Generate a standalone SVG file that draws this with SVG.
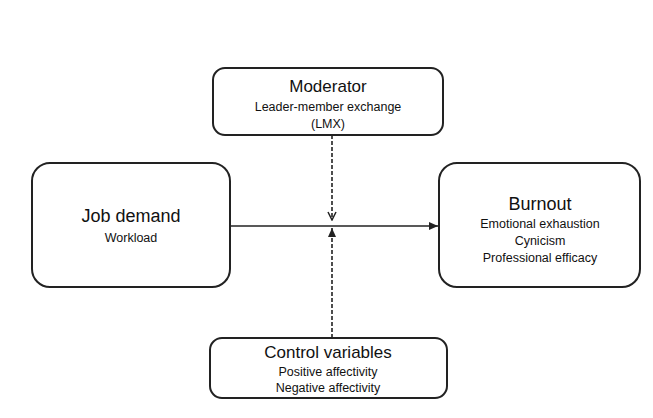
<svg xmlns="http://www.w3.org/2000/svg" width="653" height="418" viewBox="0 0 653 418">
<style>
.b{fill:#fff;stroke:#222;stroke-width:2}
text{font-family:"Liberation Sans",Arial,sans-serif;fill:#111;text-anchor:middle}
.t{font-size:17px}.s{font-size:12.5px}
.c{stroke:#222;stroke-width:1.6;fill:none}
.d{stroke-dasharray:4,2}
</style>
<defs>
<marker id="a" markerWidth="10" markerHeight="10" refX="9" refY="5" orient="auto" markerUnits="userSpaceOnUse"><path d="M0,1 L9,5 L0,9 z" fill="#222"/></marker>
<marker id="v" markerWidth="10" markerHeight="10" refX="9" refY="5" orient="auto" markerUnits="userSpaceOnUse"><path d="M1,1 L9,5 L1,9" fill="none" stroke="#222" stroke-width="1.5"/></marker>
</defs>
<g id="connectors">
<line class="c" x1="230" y1="226" x2="438" y2="226" marker-end="url(#a)"/>
<line class="c d" x1="332" y1="135" x2="332" y2="220" marker-end="url(#v)"/>
<line class="c d" x1="332" y1="338" x2="332" y2="228" marker-end="url(#a)"/>
</g>
<g id="moderator"><rect class="b" x="213" y="68" width="230" height="67" rx="12"/>
<text class="t" x="328" y="92">Moderator</text><text class="s" x="328" y="111">Leader-member exchange</text><text class="s" x="328" y="128">(LMX)</text></g>
<g id="job"><rect class="b" x="32" y="163" width="198" height="124" rx="18"/>
<text class="t" x="131" y="222" style="font-size:18px">Job demand</text><text class="s" x="131" y="242">Workload</text></g>
<g id="burnout"><rect class="b" x="439" y="163" width="201" height="124" rx="18"/>
<text class="t" x="540" y="210" style="font-size:18px">Burnout</text><text class="s" x="540" y="228">Emotional exhaustion</text><text class="s" x="540" y="245">Cynicism</text><text class="s" x="540" y="262">Professional efficacy</text></g>
<g id="control"><rect class="b" x="210" y="338" width="237" height="60" rx="12"/>
<text class="t" x="328" y="358">Control variables</text><text class="s" x="328" y="376">Positive affectivity</text><text class="s" x="328" y="392">Negative affectivity</text></g>
</svg>
